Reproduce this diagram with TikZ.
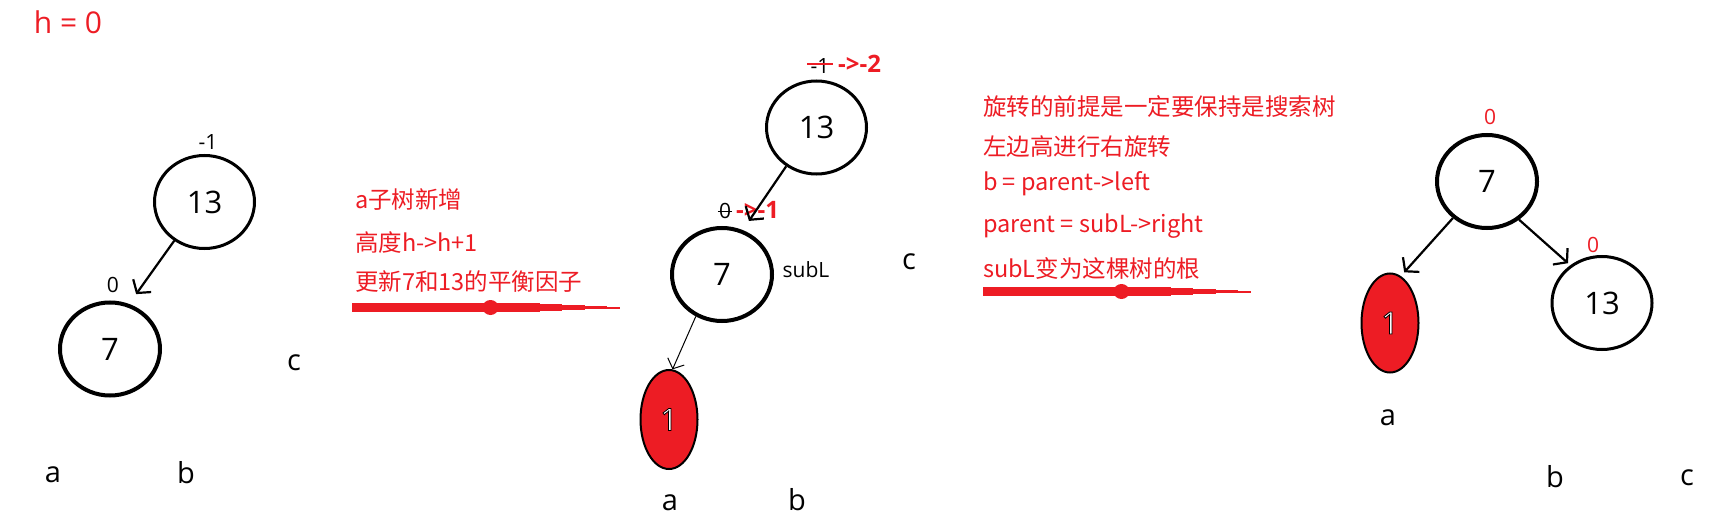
\documentclass[tikz,border=0pt]{standalone}
\usepackage{fontspec}
\setmainfont{Open Sans}
\newfontfamily\cjk{Noto Sans CJK SC}
\usetikzlibrary{arrows.meta,shapes.geometric}
\definecolor{paintred}{HTML}{ED1C24}
% white digit with a black outline
\newcommand\outlined[1]{\special{pdf:literal direct 2 Tr 0.8 w 0 0 0 RG}#1\special{pdf:literal direct 0 Tr}}

\begin{document}
\begin{tikzpicture}[
  x=1pt, y=-1pt,
  key/.style={ellipse, draw, inner sep=0pt, minimum width=100pt, minimum height=93pt, line width=3pt, font=\fontsize{31}{31}\selectfont},
  keythick/.style={key, line width=4pt},
  leaf/.style={ellipse, draw, fill=paintred, inner sep=0pt, minimum width=57pt, minimum height=99pt, line width=2pt, text=white, font=\fontsize{31}{31}\selectfont},
  bal/.style={inner sep=0pt, font=\fontsize{21}{21}\selectfont},
  balnew/.style={inner sep=0pt, text=paintred, font=\bfseries\fontsize{24}{24}\selectfont},
  lbl/.style={inner sep=0pt, font=\fontsize{29}{29}\selectfont},
  note/.style={inner sep=0pt, anchor=west, text=paintred, font=\cjk\fontsize{23.5}{23.5}\selectfont},
  arr/.style={-{Straight Barb[length=9pt, width=22pt]}, line width=2.2pt},
  thinarr/.style={-{Straight Barb[length=8pt, width=18pt]}, line width=1pt}
]
\useasboundingbox (0,0) rectangle (1722,516);

\node[inner sep=0pt, text=paintred, font=\fontsize{30}{30}\selectfont] (h) at (68,22) {h = 0};

% before insertion
\node[key] (t13a) at (204.5,202) {13};
\node[keythick] (t7a) at (110,349) {7};
\node[bal] (b13a) at (208,142.5) {-1};
\node[bal] (b7a) at (113,285) {0};
\node[lbl] (ca) at (294,363) {c};
\node[lbl] (aa) at (53,475) {a};
\node[lbl] (ba) at (186,473) {b};
\draw[arr, shorten >=12pt] (t13a.232) -- (t7a.67);

% note 1
\node[note] (n1) at (355,200) {a子树新增};
\node[note] (n2) at (355,243) {高度h->h+1};
\node[note] (n3) at (355,282) {更新7和13的平衡因子};

% after insertion
\node[key] (m13) at (816.5,127.5) {13};
\node[keythick] (m7) at (722,274.5) {7};
\node[leaf] (m1) at (669,419.5) {\outlined{1}};
\node[bal] (bm13) at (820,66) {-1};
\draw[paintred, line width=1.5pt] ([xshift=-3pt, yshift=2pt]bm13.west) -- ([xshift=3pt, yshift=2pt]bm13.east);
\node[balnew, anchor=west] (nm13) at (838,64) {->-2};
\node[bal] (bm7) at (725,211) {0};
\draw[line width=1pt] ([xshift=-1pt]bm7.west) -- ([xshift=1pt]bm7.east);
\node[balnew, anchor=west] (nm7) at (736,210) {->-1};
\node[inner sep=0pt, font=\fontsize{21}{21}\selectfont] (sub) at (806,270) {subL};
\node[lbl] (cm) at (909,262) {c};
\node[lbl] (am) at (670,503) {a};
\node[lbl] (bm) at (797,500) {b};
\draw[arr, shorten >=11pt] (m13.232) -- (m7.65);
\draw[thinarr] (m7.238) -- (m1.86);

% note 2
\node[note] (r1t) at (983,107) {旋转的前提是一定要保持是搜索树};
\node[note] (r2t) at (983,147) {左边高进行右旋转};
\node[note] (r3t) at (983,184) {b = parent->left};
\node[note] (r4t) at (983,226) {parent = subL->right};
\node[note] (r5t) at (983,268) {subL变为这棵树的根};

% painted arrows
\foreach \sx/\sy in {352/307.5, 983/291.5} {
  \begin{scope}[shift={(\sx,\sy)}, paintred]
    \fill (0,-4.7) rectangle (188,4.7);
    \fill (138.5,0) ellipse [x radius=8pt, y radius=7.5pt];
    \fill (188,-3.6) rectangle (210,3.6);
    \fill (210,-2.6) rectangle (233,2.6);
    \fill (233,-1.6) rectangle (255,1.6);
    \fill (255,-1) rectangle (268,1);
  \end{scope}
}

% after rotation
\node[keythick] (r7) at (1487,181.5) {7};
\node[leaf] (r1) at (1390,323) {\outlined{1}};
\node[key] (r13) at (1602,303) {13};
\node[bal, text=paintred] (br7) at (1490,117) {0};
\node[bal, text=paintred] (br13) at (1593,245) {0};
\node[lbl] (ar) at (1388,418) {a};
\node[lbl] (br) at (1555,477) {b};
\node[lbl] (cr) at (1687,478) {c};
\draw[arr, shorten >=5pt] (r7.227) -- (r1.77);
\draw[arr, shorten >=3pt] (r7.310) -- (r13.130);
\end{tikzpicture}
\end{document}
